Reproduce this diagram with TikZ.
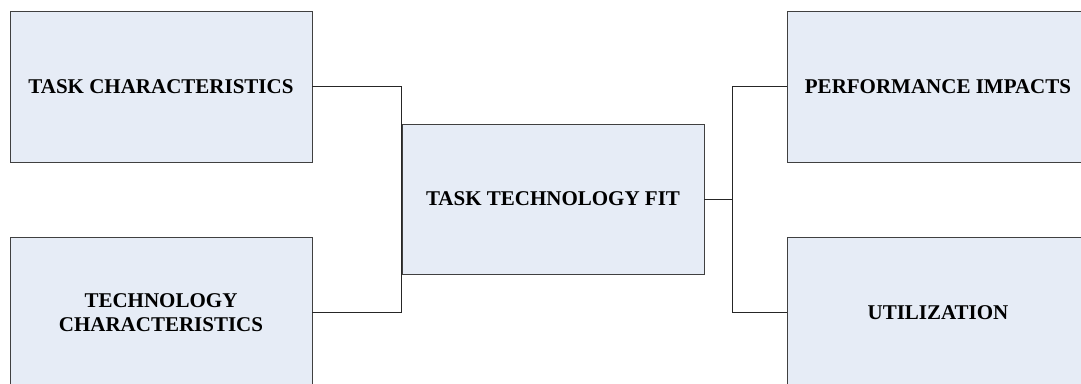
\documentclass[tikz,border=0pt]{standalone}
\usepackage{fontspec}
\setmainfont{Liberation Serif}
\begin{document}
\begin{tikzpicture}[x=1bp,y=-1bp,
  block/.style={draw=black!75, line width=0.9bp, fill=boxfill,
    minimum width=302bp, minimum height=151bp, inner sep=2bp,
    align=center, font=\fontsize{21bp}{24.5bp}\selectfont\bfseries},
  link/.style={draw=black!85, line width=0.9bp}]
\definecolor{boxfill}{RGB}{230,236,246}
\useasboundingbox (0,0) rectangle (1081,383);
\clip (0,0) rectangle (1081,383);
% input constructs
\node[block] (task) at (161,86.5) {TASK CHARACTERISTICS};
\node[block] (tech) at (161,312.5) {TECHNOLOGY\\CHARACTERISTICS};
% central construct
\node[block, minimum height=150bp] (ttf) at (553,199) {TASK TECHNOLOGY FIT};
% outcomes
\node[block] (perf) at (938,86.5) {PERFORMANCE IMPACTS};
\node[block] (util) at (938,312.5) {UTILIZATION};
% connectors
\coordinate (jl) at (ttf.west);
\coordinate (jr) at ([xshift=28bp]ttf.east);
\draw[link] (task.east) -| (jl |- ttf.north);
\draw[link] (tech.east) -| (jl |- ttf.south);
\draw[link] (jl |- task.east) -- (jl |- tech.east);
\draw[link] (ttf.east) -- (jr);
\draw[link] (perf.west) -| (jr) |- (util.west);
\end{tikzpicture}
\end{document}
